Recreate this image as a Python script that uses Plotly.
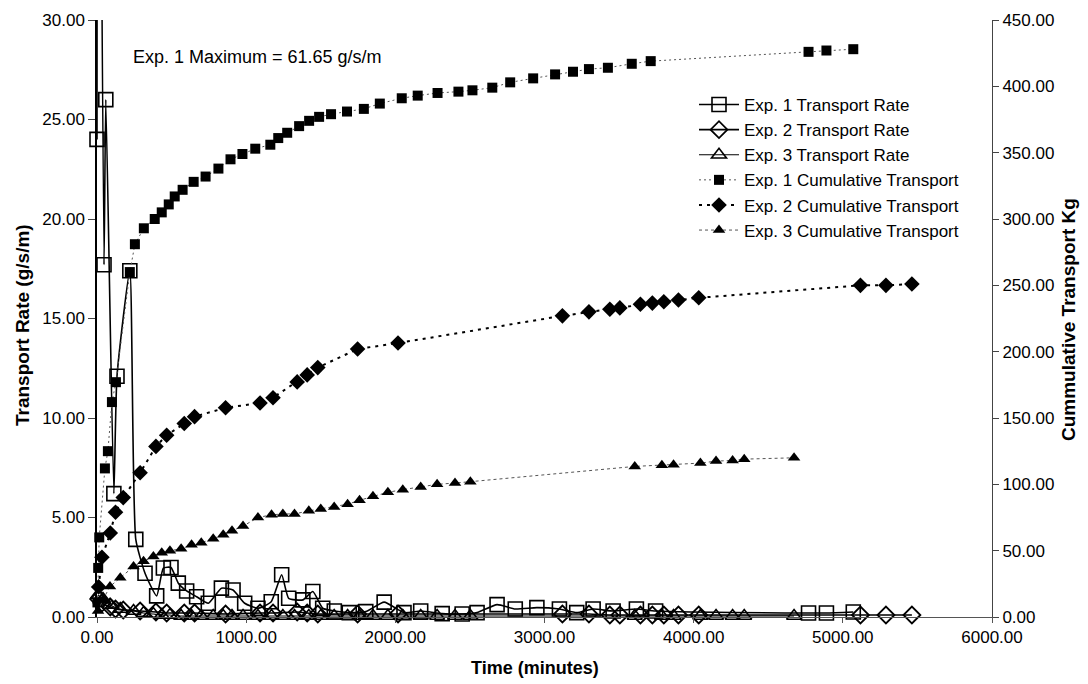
import plotly.graph_objects as go

# ---- Exp. 1 ----
exp1_rate_t = [0, 5, 47, 59, 113, 134, 220, 260, 322, 400, 445, 496, 545, 601, 668, 746, 834, 912,
               990, 1079, 1168, 1238, 1285, 1380, 1447, 1513, 1591, 1691, 1802, 1925, 2058, 2170,
               2314, 2448, 2548, 2682, 2804, 2949, 3100, 3216, 3326, 3460, 3616, 3745, 4770, 4890, 5070]
exp1_rate = [24.0, 61.65, 17.7, 26.0, 6.2, 12.1, 17.4, 3.9, 2.2, 1.06, 2.46, 2.49, 1.7, 1.31, 1.02, 0.69,
             1.45, 1.36, 0.69, 0.44, 0.77, 2.12, 0.94, 0.86, 1.28, 0.44, 0.3, 0.22, 0.27, 0.75, 0.22, 0.3,
             0.17, 0.15, 0.22, 0.62, 0.4, 0.47, 0.4, 0.22, 0.4, 0.3, 0.4, 0.3, 0.2, 0.2, 0.25]

exp1_cum_t = [3, 8, 15, 53, 73, 100, 127, 220, 254, 314, 387, 434, 481, 521, 574, 648, 728, 814, 895,
              975, 1061, 1162, 1215, 1275, 1355, 1422, 1489, 1569, 1676, 1789, 1896, 2043, 2150, 2283,
              2423, 2517, 2650, 2770, 2924, 3071, 3191, 3298, 3425, 3585, 3712, 4770, 4890, 5070]
exp1_cum = [11, 37, 60, 112, 125, 162, 177, 260, 281, 293, 300, 305, 311, 317, 322, 328, 332, 338, 345,
            349, 353, 356, 361, 365, 370, 374, 377, 379, 381, 383, 387, 391, 393, 395, 396, 397, 399,
            403, 406, 409, 411, 413, 414, 417, 419, 426, 427, 428]

# ---- Exp. 2 ----
exp2_t = [11, 33, 89, 124, 176, 289, 395, 467, 585, 654, 862, 1093, 1180, 1342, 1409, 1480, 1747, 2018,
          3120, 3298, 3438, 3505, 3643, 3723, 3800, 3898, 4034, 5118, 5289, 5463]
exp2_rate = [0.9, 0.7, 0.5, 0.4, 0.35, 0.3, 0.25, 0.2, 0.2, 0.2, 0.15, 0.2, 0.2, 0.25, 0.2, 0.15, 0.15,
             0.15, 0.15, 0.15, 0.1, 0.1, 0.1, 0.1, 0.1, 0.1, 0.1, 0.1, 0.1, 0.1]
exp2_cum = [22.7, 45, 63.3, 79, 90, 108.7, 128.6, 137, 145.8, 151, 157.7, 161.3, 165.3, 177.2, 182.5,
            188, 202, 206.5, 227, 230, 232, 233, 235.7, 236.6, 237.6, 239, 240.6, 250, 250, 251]

# ---- Exp. 3 ----
exp3_t = [7, 40, 87, 156, 245, 312, 378, 434, 489, 564, 634, 699, 779, 846, 905, 979, 1079, 1170, 1246,
          1324, 1420, 1500, 1590, 1680, 1760, 1850, 1950, 2050, 2170, 2280, 2400, 2503, 3605, 3787,
          3865, 4045, 4150, 4261, 4339, 4673]
exp3_rate = [1.1, 0.9, 0.6, 0.4, 0.3, 0.2, 0.15, 0.1, 0.1, 0.05, 0.05, 0.05, 0.05, 0.05, 0.05, 0.05,
             0.05, 0.05, 0.05, 0.05, 0.05, 0.05, 0.05, 0.05, 0.05, 0.05, 0.05, 0.05, 0.05, 0.05, 0.05,
             0.05, 0.05, 0.05, 0.05, 0.05, 0.05, 0.05, 0.05, 0.05]
exp3_cum = [4.5, 13, 23, 29.5, 38, 42, 45.6, 48.4, 50, 51.4, 54.5, 56, 59, 62, 65, 68.5, 75, 77, 77.7,
            77.7, 80, 81.5, 83, 85, 88, 91, 94, 96, 98, 100, 101, 102, 113.5, 114.4, 114.7, 116, 117.5,
            118, 119, 120]

W, H = 1088, 684
L, R, T, B = 97, 96, 20, 67
FONT = "Arial, Liberation Sans, sans-serif"


def px_x(p):
    return (p - L) / (W - L - R)


def px_y(p):
    return 1 - (p - T) / (H - T - B)


fig = go.Figure()

rate_line = dict(color="black", width=1.6, shape="spline", smoothing=0.5)
fig.add_trace(go.Scatter(
    x=exp1_rate_t, y=exp1_rate, name="Exp. 1 Transport Rate", mode="lines+markers",
    line=rate_line, cliponaxis=False,
    marker=dict(symbol="square-open", size=14, color="black", line=dict(width=1.6))))
fig.add_trace(go.Scatter(
    x=exp2_t, y=exp2_rate, name="Exp. 2 Transport Rate", mode="lines+markers",
    line=rate_line, cliponaxis=False,
    marker=dict(symbol="diamond-open", size=13, color="black", line=dict(width=1.8))))
fig.add_trace(go.Scatter(
    x=exp3_t, y=exp3_rate, name="Exp. 3 Transport Rate", mode="lines+markers",
    line=dict(color="black", width=1.2, shape="spline", smoothing=0.5), cliponaxis=False,
    marker=dict(symbol="triangle-up-open", size=13, color="black", line=dict(width=1.6))))

fig.add_trace(go.Scatter(
    x=exp1_cum_t, y=exp1_cum, name="Exp. 1 Cumulative Transport", mode="lines+markers", yaxis="y2",
    line=dict(color="#555555", width=1, dash="2px,3px"), cliponaxis=False,
    marker=dict(symbol="square", size=10, color="black")))
fig.add_trace(go.Scatter(
    x=exp2_t, y=exp2_cum, name="Exp. 2 Cumulative Transport", mode="lines+markers", yaxis="y2",
    line=dict(color="black", width=2, dash="3px,5px"), cliponaxis=False,
    marker=dict(symbol="diamond", size=12, color="black")))
fig.add_trace(go.Scatter(
    x=exp3_t, y=exp3_cum, name="Exp. 3 Cumulative Transport", mode="lines+markers", yaxis="y2",
    line=dict(color="#555555", width=1, dash="3px,3px"), cliponaxis=False,
    marker=dict(symbol="triangle-up", size=11, color="black")))

tickfont = dict(family=FONT, size=17, color="black")
fig.update_layout(
    width=W, height=H,
    margin=dict(l=L, r=R, t=T, b=B),
    paper_bgcolor="white", plot_bgcolor="white",
    font=dict(family=FONT, color="black"),
    showlegend=True,
    legend=dict(x=px_x(694), y=px_y(87), xanchor="left", yanchor="top",
                font=dict(family=FONT, size=17, color="black"),
                bgcolor="rgba(0,0,0,0)", itemwidth=40, tracegroupgap=0),
    xaxis=dict(range=[0, 6000], dtick=1000, tickformat=".2f", showgrid=False, zeroline=False,
               showline=True, linecolor="#555555", linewidth=1, ticks="outside", ticklen=5,
               tickcolor="#555555", tickfont=tickfont),
    yaxis=dict(range=[0, 30], dtick=5, tickformat=".2f", showgrid=False, zeroline=False,
               showline=True, linecolor="black", linewidth=1.5, ticks="outside", ticklen=7,
               tickcolor="#444444", tickfont=tickfont),
    yaxis2=dict(range=[0, 450], dtick=50, tickformat=".2f", overlaying="y", side="right",
                showgrid=False, zeroline=False, showline=True, linecolor="#444444", linewidth=1,
                ticks="outside", ticklen=6, tickcolor="#444444", tickfont=tickfont),
    annotations=[
        dict(text="Exp. 1 Maximum = 61.65 g/s/m", xref="paper", yref="paper",
             x=px_x(131), y=px_y(57), xanchor="left", yanchor="middle", showarrow=False,
             font=dict(family=FONT, size=18, color="black")),
        dict(text="<b>Transport Rate (g/s/m)</b>", xref="paper", yref="paper",
             x=px_x(22), y=px_y(325), xanchor="center", yanchor="middle", textangle=-90,
             showarrow=False, font=dict(family=FONT, size=19, color="black")),
        dict(text="<b>Cummulative Transport Kg</b>", xref="paper", yref="paper",
             x=px_x(1068), y=px_y(320), xanchor="center", yanchor="middle", textangle=-90,
             showarrow=False, font=dict(family=FONT, size=19, color="black")),
        dict(text="<b>Time (minutes)</b>", xref="paper", yref="paper",
             x=px_x(535), y=px_y(668), xanchor="center", yanchor="middle",
             showarrow=False, font=dict(family=FONT, size=18, color="black")),
    ],
)

fig.write_html("out.html")
